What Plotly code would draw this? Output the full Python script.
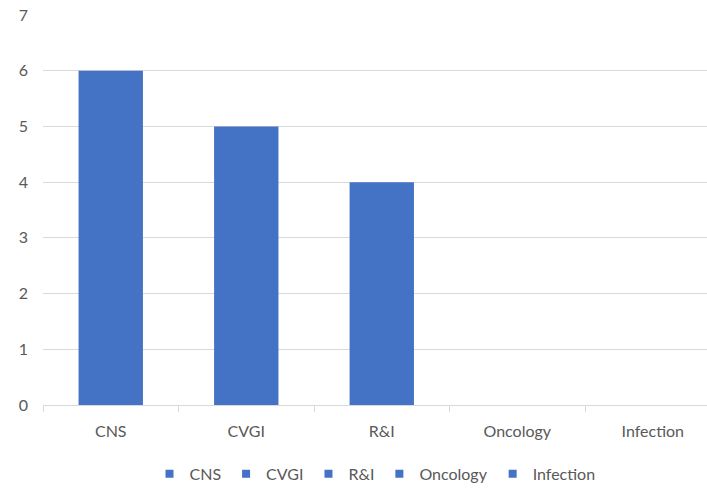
import plotly.graph_objects as go

categories = ["CNS", "CVGI", "R&I", "Oncology", "Infection"]
values = [6, 5, 4, 0, 0]
y_ticks = [0, 1, 2, 3, 4, 5, 6, 7]

BAR_COLOR = "#4472C4"
TEXT_COLOR = "#595959"
GRID_COLOR = "#D9D9D9"
FONT = "Lato, Open Sans, sans-serif"

fig = go.Figure()

# One series per category so each gets its own legend entry; bars share an
# offset group so they stay centred on their category.
for cat, val in zip(categories, values):
    fig.add_trace(go.Bar(
        x=[cat], y=[val], name=cat,
        marker=dict(color=BAR_COLOR, line=dict(width=0)),
        width=0.475, offsetgroup="all", showlegend=False,
    ))
    # Small square legend key
    fig.add_trace(go.Scatter(
        x=[None], y=[None], name=cat, mode="markers",
        marker=dict(symbol="square", size=8, color=BAR_COLOR),
    ))

fig.update_layout(
    width=707, height=488,
    margin=dict(l=43, r=0, t=15, b=83, autoexpand=False),
    paper_bgcolor="white", plot_bgcolor="white",
    font=dict(family=FONT, size=16, color=TEXT_COLOR),
    barmode="group",
    showlegend=True,
    legend=dict(
        orientation="h", x=0.5, xanchor="center",
        yref="container", y=0.029, yanchor="middle",
        font=dict(size=16, color=TEXT_COLOR), itemwidth=30,
        tracegroupgap=0,
    ),
    xaxis=dict(
        type="category", categoryorder="array", categoryarray=categories,
        range=[-0.5, 4.4],
        showgrid=False, showline=True, linecolor=GRID_COLOR, linewidth=1,
        ticks="outside", tickson="boundaries", ticklen=6, tickcolor=GRID_COLOR,
        ticklabelstandoff=12,
        tickfont=dict(size=16, color=TEXT_COLOR),
        zeroline=False, fixedrange=True, automargin=False,
    ),
    yaxis=dict(
        range=[0, 7], tickvals=y_ticks,
        showgrid=True, gridcolor=GRID_COLOR, gridwidth=1,
        showline=False, zeroline=False, ticks="", ticklen=0,
        ticklabelstandoff=14, automargin=False,
        tickfont=dict(size=16, color=TEXT_COLOR),
    ),
)

fig.write_html("out.html")
